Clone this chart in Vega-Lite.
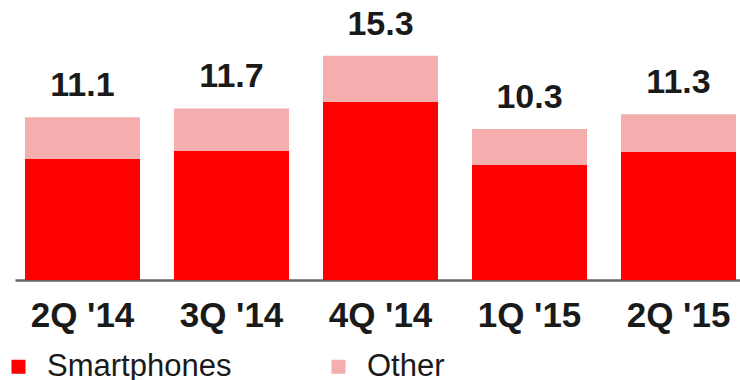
{
  "$schema": "https://vega.github.io/schema/vega-lite/v6.json",
  "width": 725,
  "height": 280,
  "autosize": {"type": "none"},
  "padding": {"left": 15, "top": 0, "right": 0, "bottom": 100},
  "background": "white",
  "config": {"view": {"stroke": null}},
  "data": {
    "values": [
      {"quarter": "2Q '14", "series": "Smartphones", "value": 8.27},
      {"quarter": "2Q '14", "series": "Other", "value": 2.83},
      {"quarter": "3Q '14", "series": "Smartphones", "value": 8.8},
      {"quarter": "3Q '14", "series": "Other", "value": 2.9},
      {"quarter": "4Q '14", "series": "Smartphones", "value": 12.14},
      {"quarter": "4Q '14", "series": "Other", "value": 3.16},
      {"quarter": "1Q '15", "series": "Smartphones", "value": 7.84},
      {"quarter": "1Q '15", "series": "Other", "value": 2.46},
      {"quarter": "2Q '15", "series": "Smartphones", "value": 8.73},
      {"quarter": "2Q '15", "series": "Other", "value": 2.57}
    ]
  },
  "encoding": {
    "x": {
      "field": "quarter",
      "type": "nominal",
      "sort": null,
      "scale": {"paddingInner": 0.228, "paddingOuter": 0.067, "range": [0, 731]},
      "axis": {
        "title": null,
        "labelAngle": 0,
        "ticks": false,
        "tickSize": 0,
        "domainColor": "#666666",
        "domainWidth": 2.5,
        "labelFont": "Liberation Sans",
        "labelFontWeight": "bold",
        "labelFontSize": 35,
        "labelColor": "#1a1a1a",
        "labelBaseline": "alphabetic",
        "labelPadding": 46
      }
    }
  },
  "layer": [
    {
      "mark": {"type": "bar"},
      "encoding": {
        "y": {
          "field": "value",
          "type": "quantitative",
          "stack": "zero",
          "scale": {"domain": [0, 19.1], "nice": false, "zero": true},
          "axis": null
        },
        "color": {
          "field": "series",
          "type": "nominal",
          "scale": {"domain": ["Smartphones", "Other"], "range": ["#FF0000", "#F4AEAE"]},
          "legend": {
            "title": null,
            "orient": "none",
            "legendX": -12,
            "legendY": 351,
            "direction": "horizontal",
            "columns": 2,
            "padding": 0,
            "columnPadding": 91,
            "symbolType": "square",
            "symbolSize": 196,
            "symbolStrokeWidth": 0,
            "labelOffset": 13,
            "labelFont": "Liberation Sans",
            "labelFontSize": 31,
            "labelColor": "#1a1a1a",
            "labelLimit": 400
          }
        },
        "order": {"field": "series", "sort": "descending"}
      }
    },
    {
      "transform": [
        {"aggregate": [{"op": "sum", "field": "value", "as": "total"}], "groupby": ["quarter"]}
      ],
      "mark": {
        "type": "text",
        "baseline": "alphabetic",
        "dy": -21,
        "font": "Liberation Sans",
        "fontWeight": "bold",
        "fontSize": 34,
        "color": "#1a1a1a"
      },
      "encoding": {
        "y": {"field": "total", "type": "quantitative"},
        "text": {"field": "total", "type": "quantitative", "format": ".1f"}
      }
    }
  ]
}
